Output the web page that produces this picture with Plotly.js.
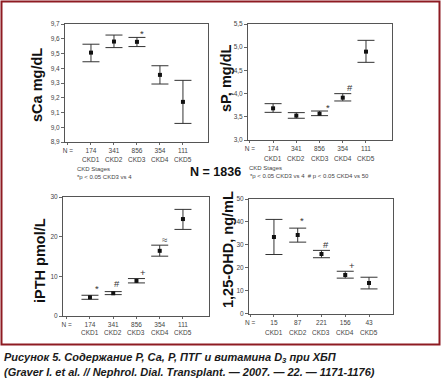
<!DOCTYPE html>
<html>
<head>
<meta charset="utf-8">
<script src="https://cdn.plot.ly/plotly-3.0.1.min.js"></script>
<style>html,body{margin:0;padding:0;background:#fff;}#chart{width:441px;height:378px;}</style>
</head>
<body>
<div id="chart"></div>
<script>
// ---- data ----
const stages = ['CKD1', 'CKD2', 'CKD3', 'CKD4', 'CKD5'];
const nMain = ['174', '341', '856', '354', '111'];
const nVitD = ['15', '87', '221', '156', '43'];

const caMean  = [9.506, 9.581, 9.579, 9.355, 9.172];
const caUpper = [9.563, 9.625, 9.609, 9.417, 9.318];
const caLower = [9.444, 9.540, 9.547, 9.293, 9.026];

const pMean  = [3.683, 3.525, 3.568, 3.912, 4.904];
const pUpper = [3.783, 3.590, 3.625, 3.999, 5.148];
const pLower = [3.596, 3.468, 3.525, 3.841, 4.674];

const pthMean  = [4.72, 5.73, 8.85, 16.43, 24.44];
const pthUpper = [5.23, 6.15, 9.44, 17.86, 26.88];
const pthLower = [4.21, 5.39, 8.34, 15.08, 21.83];

const vdMean  = [33.4, 34.3, 26.0, 16.9, 13.4];
const vdUpper = [41.1, 37.3, 27.6, 18.5, 15.9];
const vdLower = [25.8, 31.2, 24.4, 15.5, 10.8];

const caTicks = [8.9, 9.0, 9.1, 9.2, 9.3, 9.4, 9.5, 9.6, 9.7];
const pTicks = [3.0, 3.5, 4.0, 4.5, 5.0, 5.5];
const pthTicks = [0, 10, 20, 30];
const vdTicks = [0, 10, 20, 30, 40, 50];

const yTitles = ['sCa mg/dL', 'sP, mg/dL', 'iPTH pmol/L', '1,25-OHD, ng/mL'];

// significance marks: [x position, value, symbol]
const caMarks = [[2.2, 9.635, '*']];
const pMarks = [[2.35, 3.71, '*'], [3.3, 4.14, '#']];
const pthMarks = [[0.3, 6.9, '*'], [1.17, 8.1, '#'], [2.27, 10.9, '+'], [3.2, 19.4, '≈']];
const vdMarks = [[1.17, 40.6, '*'], [2.17, 30.2, '#'], [3.3, 21.0, '+']];

// ---- helpers ----
const W = 441, H = 378;
const px = v => v / W;
const py = v => 1 - v / H;
const idx = stages.map((s, i) => i);
const txtFont = {family: 'Liberation Sans, Arial, sans-serif', size: 6.5, color: '#444'};

function trace(mean, upper, lower, ax) {
  return {
    type: 'scatter', mode: 'markers',
    x: idx, y: mean,
    xaxis: ax[0], yaxis: ax[1],
    marker: {symbol: 'square', size: 4, color: '#111'},
    error_y: {
      type: 'data', symmetric: false,
      array: upper.map((u, i) => u - mean[i]),
      arrayminus: lower.map((l, i) => mean[i] - l),
      color: '#333', thickness: 1, width: 8.5
    },
    hoverinfo: 'y', showlegend: false
  };
}

function xax(dom, range, counts, anchor) {
  return {
    domain: dom, range: range, anchor: anchor,
    tickmode: 'array', tickvals: [-1].concat(idx), ticktext: ['N ='].concat(counts),
    ticks: 'outside', ticklen: 2, tickcolor: '#666', tickfont: txtFont,
    showline: true, linecolor: '#555', linewidth: 1, mirror: true,
    showgrid: false, zeroline: false, fixedrange: true
  };
}
function yax(dom, range, tickvals, fmt, anchor) {
  return {
    domain: dom, range: range, anchor: anchor,
    tickmode: 'array', tickvals: tickvals, tickformat: fmt,
    ticks: 'outside', ticklen: 3, tickcolor: '#666', tickfont: txtFont,
    showline: true, linecolor: '#555', linewidth: 1, mirror: true,
    showgrid: false, zeroline: false, fixedrange: true
  };
}

const data = [
  trace(caMean, caUpper, caLower, ['x', 'y']),
  trace(pMean, pUpper, pLower, ['x2', 'y2']),
  trace(pthMean, pthUpper, pthLower, ['x3', 'y3']),
  trace(vdMean, vdUpper, vdLower, ['x4', 'y4'])
];

const ann = [];
// y-axis titles (rotated)
const titleFont = {family: 'Liberation Sans, Arial, sans-serif', size: 14.5, color: '#111', weight: 'bold'};
const titlePos = [[37, 85], [226, 78], [40, 261], [228, 250]];
yTitles.forEach((t, i) => ann.push({xref: 'paper', yref: 'paper', x: px(titlePos[i][0]), y: py(titlePos[i][1]),
  text: t, textangle: -90, showarrow: false, xanchor: 'center', yanchor: 'middle', font: titleFont}));

function stageLabels(xref, yPix) {
  stages.forEach((s, i) => ann.push({xref: xref, yref: 'paper', x: i, y: py(yPix), text: s,
    showarrow: false, font: txtFont, xanchor: 'center', yanchor: 'middle'}));
}
stageLabels('x', 159.5);
stageLabels('x2', 158.5);
stageLabels('x3', 332);
stageLabels('x4', 332);

function marks(list, xref, yref) {
  list.forEach(m => ann.push({xref: xref, yref: yref, x: m[0], y: m[1], text: m[2], showarrow: false,
    font: {family: 'Liberation Sans, Arial, sans-serif', size: 9.5, color: '#333'}}));
}
marks(caMarks, 'x', 'y');
marks(pMarks, 'x2', 'y2');
marks(pthMarks, 'x3', 'y3');
marks(vdMarks, 'x4', 'y4');

const noteFont = {family: 'Liberation Sans, Arial, sans-serif', size: 6, color: '#444'};
ann.push({xref: 'paper', yref: 'paper', x: px(75), y: py(169), text: 'CKD Stages', showarrow: false, xanchor: 'left', font: noteFont});
ann.push({xref: 'paper', yref: 'paper', x: px(75), y: py(177), text: '*p < 0.05 CKD3 vs 4', showarrow: false, xanchor: 'left', font: noteFont});
ann.push({xref: 'paper', yref: 'paper', x: px(247), y: py(168), text: 'CKD Stages', showarrow: false, xanchor: 'left', font: noteFont});
ann.push({xref: 'paper', yref: 'paper', x: px(248), y: py(176), text: '*p < 0.05 CKD3 vs 4  # p < 0.05 CKD4 vs 50', showarrow: false, xanchor: 'left', font: noteFont});
ann.push({xref: 'paper', yref: 'paper', x: px(215.5), y: py(172), text: 'N = 1836', showarrow: false,
  font: {family: 'Liberation Sans, Arial, sans-serif', size: 12.5, color: '#111', weight: 'bold'}});

const capFont = {family: 'Liberation Sans, Arial, sans-serif', size: 11, color: '#1a1a1a', weight: 'bold', style: 'italic'};
ann.push({xref: 'paper', yref: 'paper', x: px(2), y: py(357.5), xanchor: 'left', yanchor: 'middle', showarrow: false,
  text: 'Рисунок 5. Содержание Р, Са, Р, ПТГ и витамина D<sub>3</sub> при ХБП', font: capFont});
ann.push({xref: 'paper', yref: 'paper', x: px(2), y: py(371.5), xanchor: 'left', yanchor: 'middle', showarrow: false,
  text: '(Graver I. et al. // Nephrol. Dial. Transplant. — 2007. — 22. — 1171-1176)', font: capFont});

const layout = {
  width: W, height: H,
  margin: {l: 0, r: 0, t: 0, b: 0},
  paper_bgcolor: '#fff', plot_bgcolor: '#fff',
  separators: ', ',
  showlegend: false,
  xaxis: xax([px(65), px(208)], [-1.13, 5.09], nMain, 'y'),
  yaxis: yax([py(142), py(24)], [8.9, 9.7], caTicks, '.1f', 'x'),
  xaxis2: xax([px(248), px(392)], [-1.08, 5.12], nMain, 'y2'),
  yaxis2: yax([py(140), py(24)], [3.0, 5.5], pTicks, '.1f', 'x2'),
  xaxis3: xax([px(63), px(209)], [-1.16, 5.12], nMain, 'y3'),
  yaxis3: yax([py(316), py(197)], [0, 30], pthTicks, 'd', 'x3'),
  xaxis4: xax([px(249), px(393)], [-1.05, 5.01], nVitD, 'y4'),
  yaxis4: yax([py(313.7), py(199)], [0, 50], vdTicks, 'd', 'x4'),
  annotations: ann,
  shapes: [{type: 'rect', xref: 'paper', yref: 'paper', x0: px(1.5), x1: px(439.5), y0: py(344.5), y1: py(1.5),
    line: {color: '#8e1b22', width: 2}, fillcolor: 'rgba(0,0,0,0)'}]
};

Plotly.newPlot('chart', data, layout, {displayModeBar: false, staticPlot: true});
</script>
</body>
</html>
